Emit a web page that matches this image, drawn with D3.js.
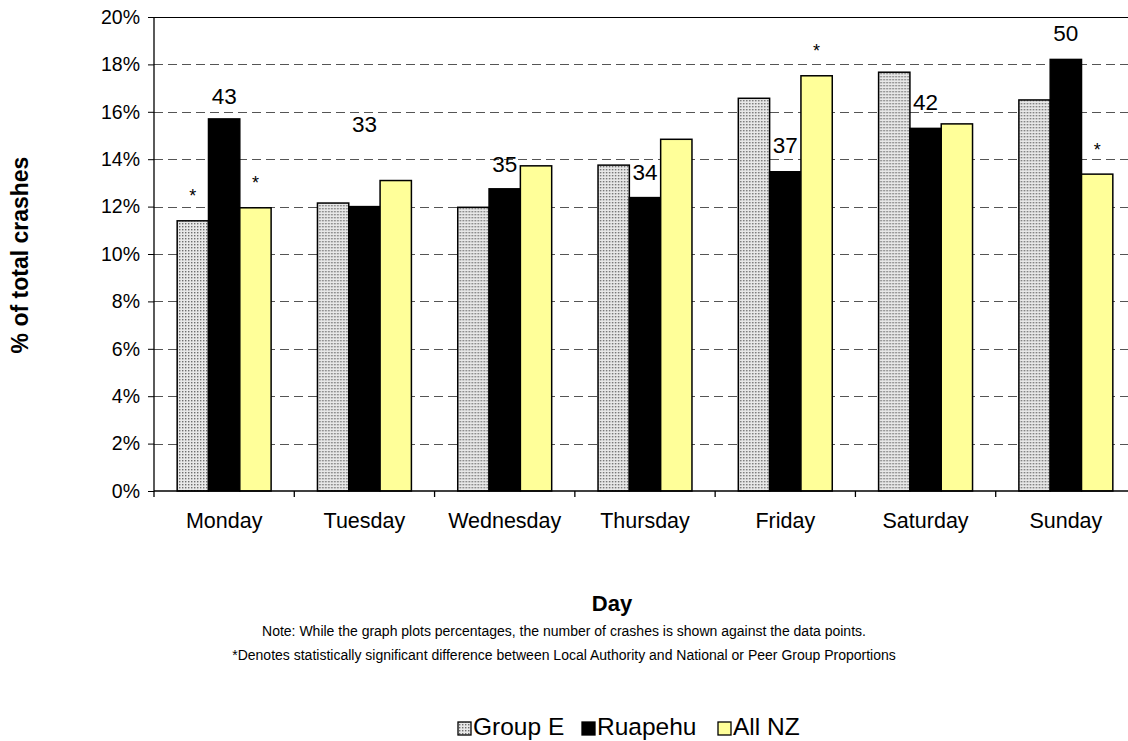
<!DOCTYPE html>
<html>
<head>
<meta charset="utf-8">
<script src="https://cdn.jsdelivr.net/npm/d3@7"></script>
<style>
  body { margin: 0; background: #fff; }
  svg { font-family: "Liberation Sans", Arial, sans-serif; }
</style>
</head>
<body>
<script>
// datos del grafico
var days = ["Monday", "Tuesday", "Wednesday", "Thursday", "Friday", "Saturday", "Sunday"]
var seriesNames = ["Group E", "Ruapehu", "All NZ"]
var groupE = [11.4, 12.15, 11.97, 13.75, 16.57, 17.67, 16.5]
var ruapehu = [15.7, 12.0, 12.75, 12.38, 13.47, 15.3, 18.21]
var allNZ = [11.95, 13.1, 13.72, 14.84, 17.52, 15.49, 13.37]
// numero de accidentes (Ruapehu) y la altura (%) donde va la etiqueta
var crashCounts = [43, 33, 35, 34, 37, 42, 50]
var countLabelAt = [16.67, 15.5, 13.8, 13.47, 14.6, 16.4, 19.3]
// diferencias significativas (*)
var sigGroupE = [1, 0, 0, 0, 0, 0, 0]
var sigAllNZ = [1, 0, 0, 0, 1, 0, 1]
var yTicks = [0, 2, 4, 6, 8, 10, 12, 14, 16, 18, 20]

var width = 1128
var height = 741
var margin = { top: 17, left: 154, bottom: 250, right: -8 }

var valores = [groupE, ruapehu, allNZ]
var datos = days.map(function (d, i) {
    return { day: d, i: i, values: seriesNames.map(function (s, j) { return { serie: s, j: j, v: valores[j][i] } }) }
})

var svg = d3.select("body").append("svg")
    .attr("width", width)
    .attr("height", height)

// patron punteado para Group E
var defs = svg.append("defs")
var pat = defs.append("pattern")
    .attr("id", "dots")
    .attr("width", 3).attr("height", 3)
    .attr("patternUnits", "userSpaceOnUse")
pat.append("rect").attr("width", 3).attr("height", 3).attr("fill", "#e8e8e8")
pat.append("rect").attr("x", 1).attr("y", 1).attr("width", 1.4).attr("height", 1.4).attr("fill", "#6e6e6e")

var colores = { "Group E": "url(#dots)", "Ruapehu": "#000000", "All NZ": "#ffff99" }

var escalaX = d3.scaleBand()
    .domain(days)
    .range([margin.left, width - margin.right])
    .padding(0)

var escalaSerie = d3.scaleBand()
    .domain(seriesNames)
    .range([0, escalaX.bandwidth()])
    .paddingInner(0)
    .paddingOuter(0.74)

var escalaY = d3.scaleLinear()
    .domain([0, 20])
    .range([height - margin.bottom, margin.top])

// rejilla
svg.append("g")
    .selectAll("line")
    .data(yTicks.filter(function (t) { return t > 0 }))
    .enter().append("line")
    .attr("x1", margin.left)
    .attr("x2", width)
    .attr("y1", function (d) { return Math.round(escalaY(d)) + 0.5 })
    .attr("y2", function (d) { return Math.round(escalaY(d)) + 0.5 })
    .attr("stroke", function (d) { return d == 20 ? "#000" : "#555" })
    .attr("stroke-width", 1)
    .attr("stroke-dasharray", function (d) { return d == 20 ? null : "9,5" })

// barras
var grupos = svg.append("g")
    .selectAll("g")
    .data(datos)
    .enter().append("g")
    .attr("transform", function (d) { return "translate(" + escalaX(d.day) + ",0)" })

grupos.selectAll("rect")
    .data(function (d) { return d.values })
    .enter().append("rect")
    .attr("x", function (d) { return escalaSerie(d.serie) })
    .attr("y", function (d) { return escalaY(d.v) })
    .attr("width", escalaSerie.bandwidth())
    .attr("height", function (d) { return escalaY(0) - escalaY(d.v) })
    .attr("fill", function (d) { return colores[d.serie] })
    .attr("stroke", "#000")
    .attr("stroke-width", 1.5)

// etiquetas con el numero de accidentes
grupos.append("text")
    .attr("x", function (d) { return escalaSerie("Ruapehu") + escalaSerie.bandwidth() / 2 })
    .attr("y", function (d) { return escalaY(countLabelAt[d.i]) })
    .attr("dy", "0.35em")
    .attr("text-anchor", "middle")
    .attr("font-size", 22.5)
    .text(function (d) { return crashCounts[d.i] })

// asteriscos
function estrella(serie, sig, vals) {
    grupos.filter(function (d) { return sig[d.i] })
        .append("text")
        .attr("x", escalaSerie(serie) + escalaSerie.bandwidth() / 2)
        .attr("y", function (d) { return escalaY(vals[d.i]) - 31 })
        .attr("dy", "0.7em")
        .attr("text-anchor", "middle")
        .attr("font-size", 18)
        .text("*")
}
estrella("Group E", sigGroupE, groupE)
estrella("All NZ", sigAllNZ, allNZ)

// eje Y
var ejeY = d3.axisLeft(escalaY)
    .tickValues(yTicks)
    .tickSize(6)
    .tickFormat(function (d) { return d + "%" })
var gy = svg.append("g")
    .attr("transform", "translate(" + margin.left + ",0)")
    .call(ejeY)
gy.select(".domain").attr("stroke", "#000").attr("stroke-width", 1.3).attr("d", "M0," + escalaY(20) + "V" + escalaY(0))
gy.selectAll(".tick text").attr("font-size", 19.5).attr("font-family", "Liberation Sans, Arial").attr("x", -14).attr("fill", "#000")

// eje X: linea base y marcas entre categorias
svg.append("line")
    .attr("x1", margin.left).attr("x2", width)
    .attr("y1", escalaY(0)).attr("y2", escalaY(0))
    .attr("stroke", "#000").attr("stroke-width", 1.5)
svg.append("g")
    .selectAll("line")
    .data(days.concat(["fin"]))
    .enter().append("line")
    .attr("x1", function (d, i) { return i < days.length ? escalaX(d) : escalaX(days[days.length - 1]) + escalaX.bandwidth() })
    .attr("x2", function (d, i) { return i < days.length ? escalaX(d) : escalaX(days[days.length - 1]) + escalaX.bandwidth() })
    .attr("y1", escalaY(0)).attr("y2", escalaY(0) + 6)
    .attr("stroke", "#000").attr("stroke-width", 1.3)

svg.append("g")
    .selectAll("text")
    .data(days)
    .enter().append("text")
    .attr("x", function (d) { return escalaX(d) + escalaX.bandwidth() / 2 })
    .attr("y", escalaY(0) + 37)
    .attr("text-anchor", "middle")
    .attr("font-size", 21.5)
    .text(function (d) { return d })

// titulos
svg.append("text")
    .attr("x", 612).attr("y", 611)
    .attr("text-anchor", "middle")
    .attr("font-size", 22).attr("font-weight", "bold")
    .text("Day")

svg.append("text")
    .attr("transform", "translate(28,255) rotate(-90)")
    .attr("text-anchor", "middle")
    .attr("font-size", 23).attr("font-weight", "bold")
    .text("% of total crashes")

svg.append("text")
    .attr("x", 564).attr("y", 636)
    .attr("text-anchor", "middle")
    .attr("font-size", 14)
    .text("Note: While the graph plots percentages, the number of crashes is shown against the data points.")
svg.append("text")
    .attr("x", 564).attr("y", 660)
    .attr("text-anchor", "middle")
    .attr("font-size", 14)
    .text("*Denotes statistically significant difference between Local Authority and National or Peer Group Proportions")

// leyenda
var leyenda = svg.append("g").attr("transform", "translate(458,735)")
var posLeyenda = [0, 124, 260]
var items = leyenda.selectAll("g")
    .data(seriesNames)
    .enter().append("g")
    .attr("transform", function (d, i) { return "translate(" + posLeyenda[i] + ",0)" })
items.append("rect")
    .attr("x", 0).attr("y", -13)
    .attr("width", 13).attr("height", 13)
    .attr("fill", function (d) { return colores[d] })
    .attr("stroke", "#000").attr("stroke-width", 1.3)
items.append("text")
    .attr("x", 15)
    .attr("font-size", 24.5)
    .text(function (d) { return d })
</script>
</body>
</html>
